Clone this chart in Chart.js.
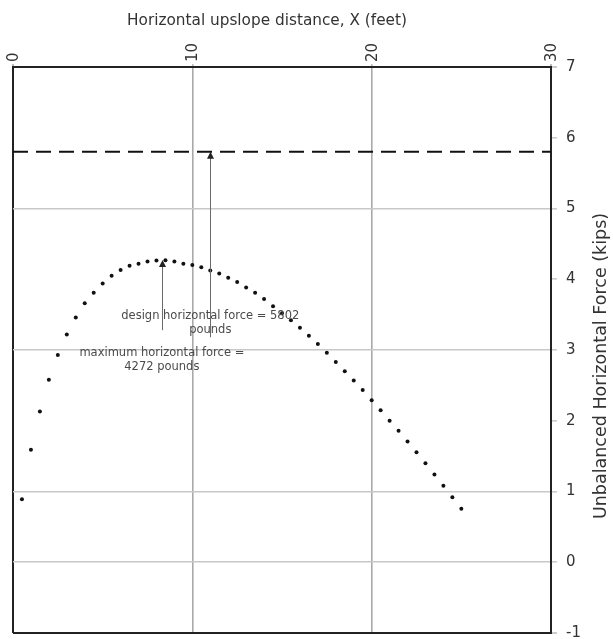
<!DOCTYPE html>
<html><head><meta charset="utf-8">
<script src="https://cdn.jsdelivr.net/npm/chart.js@4"></script>
<style>html,body{margin:0;padding:0;background:#fff;overflow:hidden}#wrap{width:613px;height:639px;position:relative}</style>
</head><body><div id="wrap"><canvas id="c"></canvas></div>
<script>
// ---- data ----
const xFeet = [0.5,1.0,1.5,2.0,2.5,3.0,3.5,4.0,4.5,5.0,5.5,6.0,6.5,7.0,7.5,8.0,8.5,9.0,9.5,10.0,10.5,11.0,11.5,12.0,12.5,13.0,13.5,14.0,14.5,15.0,15.5,16.0,16.5,17.0,17.5,18.0,18.5,19.0,19.5,20.0,20.5,21.0,21.5,22.0,22.5,23.0,23.5,24.0,24.5,25.0];
const forceKips = [0.89,1.59,2.13,2.58,2.93,3.22,3.46,3.66,3.81,3.94,4.05,4.13,4.19,4.22,4.25,4.265,4.27,4.25,4.22,4.20,4.17,4.125,4.08,4.02,3.96,3.885,3.81,3.72,3.62,3.52,3.42,3.315,3.20,3.085,2.96,2.83,2.70,2.57,2.435,2.29,2.15,2.00,1.86,1.705,1.556,1.40,1.24,1.08,0.92,0.755];
const xRange = [0, 30];
const yRange = [-1, 7];
const majorGridY = [0, 1, 3, 5];
const designForce = 5.802;          // kips
const designArrowX = 11.0;          // feet
const designArrowEnd = 3.18;
const designLabel = ['design horizontal force = 5802', 'pounds'];
const designLabelY = [3.48, 3.28];
const maxForce = 4.272;             // kips
const maxForceX = 8.3;              // feet
const maxArrowEnd = 3.28;
const maxLabel = ['maximum horizontal force =', '4272 pounds'];
const maxLabelY = [2.96, 2.76];
const xTitle = 'Horizontal upslope distance, X (feet)';
const yTitle = 'Unbalanced Horizontal Force (kips)';

const FONT = '"DejaVu Sans", Verdana, sans-serif';

const annotations = {
  id: 'annotations',
  afterDatasetsDraw(chart) {
    const {ctx, scales: {x, y}, chartArea: ca} = chart;
    ctx.save();
    function arrow(xv, yTop, yBot) {
      const px = Math.round(x.getPixelForValue(xv)) + 0.5;
      const pt = y.getPixelForValue(yTop);
      const pb = y.getPixelForValue(yBot);
      ctx.strokeStyle = '#6a6a6a';
      ctx.lineWidth = 1;
      ctx.beginPath(); ctx.moveTo(px, pb); ctx.lineTo(px, pt + 4); ctx.stroke();
      ctx.fillStyle = '#222';
      ctx.beginPath();
      ctx.moveTo(px, pt); ctx.lineTo(px - 3.5, pt + 7); ctx.lineTo(px + 3.5, pt + 7); ctx.closePath(); ctx.fill();
    }
    arrow(designArrowX, designForce, designArrowEnd);
    arrow(maxForceX, maxForce, maxArrowEnd);
    ctx.font = '11.5px ' + FONT;
    ctx.fillStyle = '#4a4a4a';
    ctx.textAlign = 'center';
    ctx.textBaseline = 'middle';
    designLabel.forEach((t, i) => ctx.fillText(t, x.getPixelForValue(designArrowX), y.getPixelForValue(designLabelY[i])));
    maxLabel.forEach((t, i) => ctx.fillText(t, x.getPixelForValue(maxForceX), y.getPixelForValue(maxLabelY[i])));
    // axis titles
    ctx.fillStyle = '#333';
    ctx.font = '15.3px ' + FONT;
    ctx.fillText(xTitle, (ca.left + ca.right) / 2 - 15, 21);
    ctx.save();
    ctx.translate(601, (ca.top + ca.bottom) / 2 + 16);
    ctx.rotate(-Math.PI / 2);
    ctx.font = '17.5px ' + FONT;
    ctx.fillText(yTitle, 0, 0);
    ctx.restore();
    ctx.restore();
  }
};

new Chart(document.getElementById('c'), {
  type: 'scatter',
  data: {
    datasets: [
      {
        label: 'force',
        data: xFeet.map((v, i) => ({x: v, y: forceKips[i]})),
        pointRadius: 2,
        pointHoverRadius: 2,
        pointBackgroundColor: '#111',
        pointBorderWidth: 0,
        showLine: false
      },
      {
        label: 'design',
        type: 'line',
        data: xRange.map(v => ({x: v, y: designForce})),
        borderColor: '#111',
        borderWidth: 2.2,
        borderDash: [15, 8],
        pointRadius: 0
      }
    ]
  },
  options: {
    responsive: true,
    maintainAspectRatio: false,
    animation: false,
    layout: {padding: {left: 13, bottom: 6, top: 0, right: 0}},
    plugins: {legend: {display: false}, tooltip: {enabled: false}},
    scales: {
      x: {
        type: 'linear', position: 'top', min: xRange[0], max: xRange[1],
        afterFit: s => { s.height = 67; s.paddingLeft = 0; s.paddingRight = 0; },
        ticks: {stepSize: 10, minRotation: 90, maxRotation: 90, padding: 2, labelOffset: 19, color: '#333', font: {family: FONT, size: 15}},
        grid: {
          color: c => (c.tick.value === xRange[0] || c.tick.value === xRange[1]) ? '#222' : '#a9a9a9',
          lineWidth: c => (c.tick.value === xRange[0] || c.tick.value === xRange[1]) ? 2 : 1.6,
          tickLength: 3, tickColor: '#bbb'
        },
        border: {display: true, color: '#222', width: 2}
      },
      y: {
        type: 'linear', position: 'right', min: yRange[0], max: yRange[1],
        afterFit: s => { s.width = 62; s.paddingTop = 0; s.paddingBottom = 0; },
        ticks: {stepSize: 1, padding: 9, color: '#333', font: {family: FONT, size: 15}},
        grid: {
          color: c => (c.tick.value === yRange[0] || c.tick.value === yRange[1]) ? '#222' : (majorGridY.includes(c.tick.value) ? '#c8c8c8' : 'rgba(0,0,0,0)'),
          lineWidth: c => (c.tick.value === yRange[0] || c.tick.value === yRange[1]) ? 2 : 1.6,
          tickLength: 6, tickColor: '#ccc'
        },
        border: {display: true, color: '#222', width: 2}
      }
    }
  },
  plugins: [annotations]
});
</script></body></html>
